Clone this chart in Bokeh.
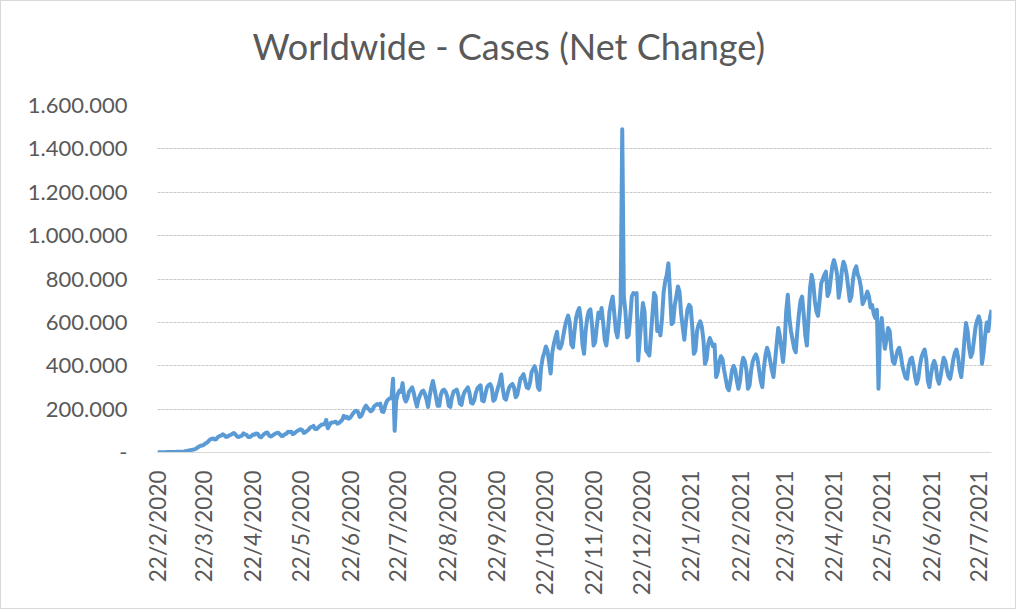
import math
import pandas as pd
from bokeh.plotting import figure
from bokeh.models import Range1d, FixedTicker, ColumnDataSource, Title
from bokeh.embed import file_html
from bokeh.resources import INLINE

title_text = "Worldwide - Cases (Net Change)"
start_date = "2020-02-22"

# Daily new cases worldwide, in thousands (22/2/2020 .. 31/12/2020)
cases_2020_k = [
    1, 1, 1, 1, 1, 1, 2,
    2, 2, 2, 2, 2, 3, 3,
    4, 4, 4, 5, 7, 8, 10,
    11, 13, 14, 17, 22, 27, 31,
    32, 35, 41, 45, 52, 60, 63,
    65, 60, 62, 72, 76, 78, 84,
    80, 72, 73, 79, 81, 86, 90,
    83, 74, 71, 75, 78, 88, 84,
    81, 72, 72, 76, 83, 82, 88,
    86, 74, 70, 78, 85, 90, 92,
    80, 74, 77, 82, 87, 90, 91,
    83, 76, 77, 84, 87, 96, 94,
    96, 85, 88, 95, 100, 104, 107,
    103, 90, 94, 100, 106, 116, 118,
    123, 108, 108, 115, 122, 128, 130,
    130, 150, 112, 125, 137, 138, 140,
    142, 133, 136, 143, 150, 169, 160,
    165, 156, 160, 170, 182, 190, 192,
    186, 164, 168, 185, 205, 216, 205,
    198, 190, 195, 212, 218, 223, 220,
    225, 190, 187, 215, 235, 245, 250,
    250, 340, 100, 240, 270, 285, 280,
    320, 255, 235, 250, 280, 290, 300,
    275, 240, 212, 245, 265, 280, 285,
    270, 245, 210, 260, 300, 330, 295,
    255, 215, 215, 265, 285, 290, 280,
    260, 215, 210, 255, 280, 285, 290,
    265, 225, 220, 260, 280, 290, 300,
    275, 230, 225, 240, 275, 295, 305,
    310, 240, 236, 270, 300, 310, 315,
    300, 238, 245, 275, 300, 325, 360,
    290, 250, 244, 275, 300, 310, 316,
    300, 255, 265, 300, 340, 350, 361,
    330, 300, 296, 320, 370, 385, 398,
    370, 300, 289, 390, 436, 460, 489,
    470, 420, 364, 460, 500, 530, 556,
    484, 480, 500, 540, 580, 610, 631,
    600, 499, 485, 560, 620, 650, 666,
    610, 500, 455, 560, 620, 651, 660,
    590, 493, 510, 580, 645, 620, 666,
    600, 520, 493, 560, 650, 690, 719,
    640, 560, 531, 600, 690, 1490, 720,
    650, 531, 540, 620, 720, 735, 730,
    735, 424, 520, 610, 689, 650, 470,
    460, 447, 540, 640, 735, 720,
]

# Daily new cases worldwide, in thousands (1/1/2021 .. 30/7/2021)
cases_2021_k = [
    560, 580, 540, 620, 740, 790, 820, 872,
    740, 592, 600, 680, 720, 765, 740,
    640, 577, 520, 600, 660, 681, 670,
    580, 455, 470, 560, 590, 605, 580,
    520, 409, 430, 500, 528, 510, 490,
    498, 348, 370, 420, 444, 430, 380,
    340, 300, 287, 330, 380, 399, 380,
    330, 294, 330, 400, 437, 420, 380,
    294, 310, 380, 420, 440, 452, 430,
    380, 330, 302, 390, 450, 483, 460,
    420, 380, 348, 420, 500, 574, 540,
    480, 417, 500, 650, 727, 620, 560,
    520, 480, 462, 560, 640, 700, 719,
    640, 540, 493, 620, 760, 819, 780,
    700, 650, 630, 700, 780, 800, 820,
    834, 722, 740, 800, 860, 887, 860,
    820, 714, 760, 840, 880, 860, 820,
    760, 699, 720, 800, 841, 858, 820,
    800, 760, 684, 700, 720, 742, 720,
    669, 680, 640, 620, 658, 294, 560,
    620, 540, 478, 520, 574, 560, 480,
    420, 409, 440, 470, 483, 450, 400,
    370, 345, 340, 400, 430, 437, 400,
    350, 317, 340, 400, 440, 460, 475,
    430, 330, 302, 360, 400, 422, 400,
    340, 317, 350, 400, 437, 420, 380,
    350, 340, 380, 430, 460, 475, 440,
    380, 348, 420, 520, 597, 560, 480,
    440, 460, 520, 580, 610, 628, 600,
    409, 460, 540, 599, 560, 620, 658,
]

x_tick_labels = [
    "22/2/2020", "22/3/2020", "22/4/2020", "22/5/2020", "22/6/2020",
    "22/7/2020", "22/8/2020", "22/9/2020", "22/10/2020", "22/11/2020",
    "22/12/2020", "22/1/2021", "22/2/2021", "22/3/2021", "22/4/2021",
    "22/5/2021", "22/6/2021", "22/7/2021",
]
y_tick_values = [0, 200000, 400000, 600000, 800000, 1000000, 1200000, 1400000, 1600000]
y_tick_labels = ["-", "200.000", "400.000", "600.000", "800.000",
                 "1.000.000", "1.200.000", "1.400.000", "1.600.000"]

# ---- build
values = [v * 1000 for v in cases_2020_k + cases_2021_k]
start = pd.Timestamp(start_date)
day_index = list(range(len(values)))
src = ColumnDataSource(dict(x=day_index, y=values))

x_tick_pos = [int((pd.to_datetime(s, dayfirst=True) - start).days) for s in x_tick_labels]

FONT = "Lato"
GREY = "#595959"

p = figure(frame_width=834, frame_height=347,
           x_range=Range1d(0, len(values) - 1), y_range=Range1d(0, 1600000),
           output_backend="svg", toolbar_location=None,
           min_border_left=156, min_border_right=24, min_border_top=104, min_border_bottom=156,
           title=title_text)
p.styles = {"border": "1px solid #d9d9d9"}
p.background_fill_color = "white"
p.border_fill_color = "white"
p.outline_line_color = None

# empty spacer between the frame and the chart title
p.add_layout(Title(text=" ", text_font_size="32.5px", standoff=0), "above")

p.title.text_font = FONT
p.title.text_font_size = "36px"
p.title.text_font_style = "normal"
p.title.text_color = GREY
p.title.align = "left"
p.title.offset = 95
p.title.standoff = 0

p.line("x", "y", source=src, line_color="#5B9BD5", line_width=4, line_join="round")

xa = p.xaxis[0]
xa.ticker = FixedTicker(ticks=x_tick_pos)
xa.major_label_overrides = {pos: lab for pos, lab in zip(x_tick_pos, x_tick_labels)}
xa.major_label_orientation = math.pi / 2
xa.major_label_standoff = 18
xa.major_label_text_font = FONT
xa.major_label_text_font_size = "22.5px"
xa.major_label_text_color = GREY
xa.major_tick_line_color = None
xa.minor_tick_line_color = None
xa.major_tick_out = 0
xa.major_tick_in = 0
xa.axis_line_color = "#d9d9d9"

ya = p.yaxis[0]
ya.ticker = FixedTicker(ticks=y_tick_values)
ya.major_label_overrides = {v: lab for v, lab in zip(y_tick_values, y_tick_labels)}
ya.major_label_standoff = 30
ya.major_label_text_font = FONT
ya.major_label_text_font_size = "22px"
ya.major_label_text_color = GREY
ya.major_tick_line_color = None
ya.minor_tick_line_color = None
ya.major_tick_out = 0
ya.major_tick_in = 0
ya.axis_line_color = None

p.xgrid.visible = False
p.ygrid.grid_line_color = "#c8c8c8"
p.ygrid.grid_line_dash = "3 1"
p.ygrid.grid_line_width = 1

open("out.html", "w").write(file_html(p, INLINE))
